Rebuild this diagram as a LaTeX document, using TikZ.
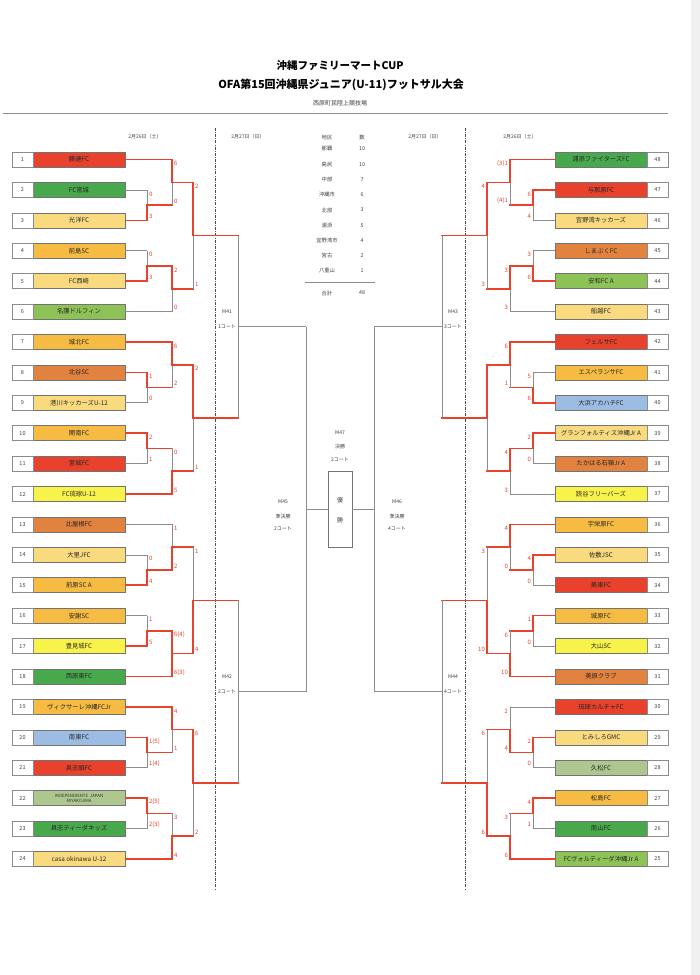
\documentclass[tikz,border=0pt]{standalone}
\usepackage{fontspec}
\setmainfont{Noto Sans CJK JP}
\usetikzlibrary{calc}
\definecolor{cR}{HTML}{E8412C}
\definecolor{cG}{HTML}{48A94C}
\definecolor{cLY}{HTML}{F9DA7E}
\definecolor{cGo}{HTML}{F6BB42}
\definecolor{cOr}{HTML}{E2823F}
\definecolor{cLG}{HTML}{8DC356}
\definecolor{cY}{HTML}{F8F34A}
\definecolor{cLB}{HTML}{9DBCE3}
\definecolor{cSa}{HTML}{ADC78F}
\tikzset{
  team/.style={draw=black!55, line width=0.5pt, minimum width=92pt, minimum height=15pt, inner sep=0pt, text=black!85, font=\fontsize{6.3}{7}\selectfont},
  num/.style={draw=black!45, line width=0.5pt, fill=white, minimum width=21pt, minimum height=15pt, inner sep=0pt, text=black!75, font=\fontsize{5.5}{6}\selectfont},
  rl/.style={draw=cR, line width=1.5pt, line cap=rect},
  gl/.style={draw=black!45, line width=0.6pt},
  scl/.style={text=cR, font=\fontsize{6}{7}\selectfont, inner sep=0.3pt, anchor=west, xshift=1.6pt},
  scr/.style={text=cR, font=\fontsize{6}{7}\selectfont, inner sep=0.3pt, anchor=east, xshift=-1.6pt},
  mlab/.style={fill=white, inner sep=1pt, text=black!75, font=\fontsize{5}{6}\selectfont},
  small/.style={text=black!75, font=\fontsize{5}{6}\selectfont},
  tab/.style={text=black!75, font=\fontsize{5.3}{6}\selectfont},
  dashl/.style={draw=black!70, line width=0.6pt, dash pattern=on 3pt off 1.2pt on 0.8pt off 1.2pt},
}
\newcommand\ent[6]{%
  \draw[#1] (#3) -- (#3 -| #4);
  \draw[#2] (#3 -| #4) -- (#4);
  \node[#6] at ($(#3 -| #4)!4pt!(#4)$) {#5};
}
\begin{document}
\begin{tikzpicture}[x=1pt,y=-1pt]
\useasboundingbox (0,0) rectangle (700,975);
\fill[white] (0,0) rectangle (700,975);
\fill[black!6] (691,0) rectangle (700,975);

% titles
\node[font=\bfseries\fontsize{10.5}{12}\selectfont] (t1) at (340,66) {沖縄ファミリーマートCUP};
\node[font=\bfseries\fontsize{11}{12}\selectfont] (t2) at (341,85) {OFA第15回沖縄県ジュニア(U-11)フットサル大会};
\node[small, font=\fontsize{6}{7}\selectfont] (t3) at (340,103) {西原町民陸上競技場};
\coordinate (hr1) at (3,113); \coordinate (hr2) at (668,113);
\draw[black!45, line width=0.8pt] (hr1) -- (hr2);

% dates
\node[small] (d1) at (145,137) {2月26日（土）};
\node[small] (d2) at (248,137) {2月27日（日）};
\node[small] (d3) at (425,137) {2月27日（日）};
\node[small] (d4) at (520,137) {2月26日（土）};

% dashed day lines
\coordinate (dl1) at (215,128); \coordinate (dl2) at (215,890);
\coordinate (dr1) at (465,128); \coordinate (dr2) at (465,890);
\draw[dashl] (dl1) -- (dl2);
\draw[dashl] (dr1) -- (dr2);

% table
\node[tab] (th1) at (327,137) {地区};
\node[tab] (th2) at (362,137) {数};
\foreach \n/\v [count=\k from 0] in {那覇/10,島尻/10,中部/7,沖縄市/6,北部/3,浦添/5,宜野湾市/4,宮古/2,八重山/1}{
  \node[tab] (ta\k) at (327,149+\k*15.25) {\n};
  \node[tab] (tb\k) at (362,149+\k*15.25) {\v};
}
\coordinate (tl1) at (305,282); \coordinate (tl2) at (375,282);
\draw[black!45, line width=0.6pt] (tl1) -- (tl2);
\node[tab] (tsum1) at (327,293) {合計};
\node[tab] (tsum2) at (362,293) {48};

% left teams
\foreach \i/\nm/\c in {1/勝連FC/cR,2/FC宮城/cG,3/光洋FC/cLY,4/前島SC/cGo,5/FC西崎/cLY,6/名護ドルフィン/cLG,
  7/城北FC/cGo,8/北谷SC/cOr,9/港川キッカーズU-12/cLY,10/開南FC/cGo,11/宮城FC/cR,12/FC琉球U-12/cY,
  13/比屋根FC/cOr,14/大里JFC/cLY,15/前原SC A/cGo,16/安謝SC/cGo,17/豊見城FC/cY,18/西原東FC/cG,
  19/ヴィクサーレ沖縄FCJr/cGo,20/南東FC/cLB,21/具志頭FC/cR,22/{}/cSa,23/具志ティーダキッズ/cG,24/casa okinawa U-12/cLY}{
  \node[team, fill=\c] (L\i) at (79,{159.5+(\i-1)*30.41}) {\nm};
  \node[num] (NL\i) at (22.5,{159.5+(\i-1)*30.41}) {\i};
}
\node[align=center, font=\fontsize{4.3}{4.8}\selectfont, text=black!80] (L22t) at (L22) {INDEPENDIENTE\ \ JAPAN\\MIYAKOJIMA};

% right teams
\foreach \i/\nm/\c [count=\k from 0] in {48/浦添ファイターズFC/cG,47/与那原FC/cR,46/宜野湾キッカーズ/cLY,45/しまぶくFC/cOr,44/安和FC A/cLG,43/船越FC/cLY,
  42/フェルサFC/cR,41/エスペランサFC/cGo,40/大浜アカハチFC/cLB,39/グランフォルティス沖縄Jr A/cLY,38/たかはる石嶺Jr A/cOr,37/読谷フリーバーズ/cY,
  36/宇栄原FC/cGo,35/佐敷JSC/cLY,34/美東FC/cR,33/城原FC/cGo,32/大山SC/cY,31/美原クラブ/cOr,
  30/琉球カルチャFC/cR,29/とみしろGMC/cLY,28/久松FC/cSa,27/松島FC/cGo,26/南山FC/cG,25/FCヴォルティーダ沖縄Jr A/cLG}{
  \node[team, fill=\c] (R\i) at (601,{159.5+\k*30.41}) {\nm};
  \node[num] (NR\i) at (657.5,{159.5+\k*30.41}) {\i};
}

% junctions left
\coordinate (LA1) at (147,205.1); \coordinate (LB1) at (172,182.3); \coordinate (LC1) at (147,265.9); \coordinate (LD1) at (172,288.75); \coordinate (LE1) at (193,235.5);
\coordinate (LA2) at (147,387.6); \coordinate (LB2) at (172,364.8); \coordinate (LC2) at (147,448.4); \coordinate (LD2) at (172,471.2); \coordinate (LE2) at (193,418.0);
\coordinate (LA3) at (147,570.0); \coordinate (LB3) at (172,547.2); \coordinate (LC3) at (147,630.9); \coordinate (LD3) at (172,653.7); \coordinate (LE3) at (193,600.45);
\coordinate (LA4) at (147,752.5); \coordinate (LB4) at (172,729.7); \coordinate (LC4) at (147,813.3); \coordinate (LD4) at (172,836.1); \coordinate (LE4) at (193,782.9);
% junctions right
\coordinate (RA1) at (533,205.1); \coordinate (RB1) at (510,182.3); \coordinate (RC1) at (533,265.9); \coordinate (RD1) at (510,288.75); \coordinate (RE1) at (487,235.5);
\coordinate (RA2) at (533,387.6); \coordinate (RB2) at (510,364.8); \coordinate (RC2) at (533,448.4); \coordinate (RD2) at (510,471.2); \coordinate (RE2) at (487,418.0);
\coordinate (RA3) at (533,570.0); \coordinate (RB3) at (510,547.2); \coordinate (RC3) at (533,630.9); \coordinate (RD3) at (510,653.7); \coordinate (RE3) at (487,600.45);
\coordinate (RA4) at (533,752.5); \coordinate (RB4) at (510,729.7); \coordinate (RC4) at (533,813.3); \coordinate (RD4) at (510,836.1); \coordinate (RE4) at (487,782.9);
% later rounds
\coordinate (M41) at (238,326.75); \coordinate (M42) at (238,691.7); \coordinate (M45) at (306,509.2);
\coordinate (M43) at (442,326.75); \coordinate (M44) at (442,691.7); \coordinate (M46) at (374,509.2);

% M labels (over dashed lines)
\node[mlab] (m41a) at (227,312) {M41}; \node[mlab] (m41b) at (227,327) {1コート};
\node[mlab] (m42a) at (227,677) {M42}; \node[mlab] (m42b) at (227,692) {2コート};
\node[mlab] (m43a) at (453,312) {M43}; \node[mlab] (m43b) at (453,327) {3コート};
\node[mlab] (m44a) at (453,677) {M44}; \node[mlab] (m44b) at (453,692) {4コート};
\node[small] (m47a) at (340,433) {M47}; \node[small] (m47b) at (340,447) {決勝}; \node[small] (m47c) at (340,460) {2コート};
\node[small] (m45a) at (283,502) {M45}; \node[small] (m45b) at (283,517) {準決勝}; \node[small] (m45c) at (283,529) {2コート};
\node[small] (m46a) at (397,502) {M46}; \node[small] (m46b) at (397,517) {準決勝}; \node[small] (m46c) at (397,529) {4コート};

% final box
\node[draw=black!55, line width=0.6pt, minimum width=24pt, minimum height=76pt, inner sep=0pt] (F) at (340,509.2) {};
\node[small, font=\fontsize{6}{7}\selectfont] (F1) at (340,500) {優};
\node[small, font=\fontsize{6}{7}\selectfont] (F2) at (340,520) {勝};

% later-round lines
\ent{gl}{gl}{M41}{M45}{}{scl}
\ent{gl}{gl}{M42}{M45}{}{scl}
\draw[gl] (M45) -- (F.west);
\ent{gl}{gl}{M43}{M46}{}{scr}
\ent{gl}{gl}{M44}{M46}{}{scr}
\draw[gl] (M46) -- (F.east);

% ---------- left group 1
\ent{gl}{gl}{L2.east}{LA1}{0}{scl}
\ent{rl}{rl}{L3.east}{LA1}{3}{scl}
\ent{rl}{rl}{L1.east}{LB1}{6}{scl}
\ent{rl}{gl}{LA1}{LB1}{0}{scl}
\ent{gl}{gl}{L4.east}{LC1}{0}{scl}
\ent{rl}{rl}{L5.east}{LC1}{3}{scl}
\ent{rl}{rl}{LC1}{LD1}{2}{scl}
\ent{gl}{gl}{L6.east}{LD1}{0}{scl}
\ent{rl}{rl}{LB1}{LE1}{2}{scl}
\ent{rl}{gl}{LD1}{LE1}{1}{scl}
% left group 2
\ent{rl}{rl}{L8.east}{LA2}{1}{scl}
\ent{gl}{gl}{L9.east}{LA2}{0}{scl}
\ent{rl}{rl}{L7.east}{LB2}{6}{scl}
\ent{rl}{gl}{LA2}{LB2}{2}{scl}
\ent{rl}{rl}{L10.east}{LC2}{2}{scl}
\ent{gl}{gl}{L11.east}{LC2}{1}{scl}
\ent{rl}{gl}{LC2}{LD2}{0}{scl}
\ent{rl}{rl}{L12.east}{LD2}{5}{scl}
\ent{rl}{rl}{LB2}{LE2}{2}{scl}
\ent{rl}{gl}{LD2}{LE2}{1}{scl}
% left group 3
\ent{gl}{gl}{L14.east}{LA3}{0}{scl}
\ent{rl}{rl}{L15.east}{LA3}{4}{scl}
\ent{gl}{gl}{L13.east}{LB3}{1}{scl}
\ent{rl}{rl}{LA3}{LB3}{2}{scl}
\ent{gl}{gl}{L16.east}{LC3}{1}{scl}
\ent{rl}{rl}{L17.east}{LC3}{5}{scl}
\ent{rl}{rl}{LC3}{LD3}{6(4)}{scl}
\ent{rl}{rl}{L18.east}{LD3}{6(3)}{scl}
\ent{rl}{gl}{LB3}{LE3}{1}{scl}
\ent{rl}{rl}{LD3}{LE3}{4}{scl}
% left group 4
\ent{rl}{rl}{L20.east}{LA4}{1(5)}{scl}
\ent{gl}{gl}{L21.east}{LA4}{1(4)}{scl}
\ent{rl}{rl}{L19.east}{LB4}{4}{scl}
\ent{rl}{gl}{LA4}{LB4}{1}{scl}
\ent{rl}{rl}{L22.east}{LC4}{2(5)}{scl}
\ent{gl}{gl}{L23.east}{LC4}{2(3)}{scl}
\ent{rl}{gl}{LC4}{LD4}{3}{scl}
\ent{rl}{rl}{L24.east}{LD4}{4}{scl}
\ent{rl}{rl}{LB4}{LE4}{6}{scl}
\ent{rl}{gl}{LD4}{LE4}{2}{scl}
% left to M41 / M42
\ent{rl}{gl}{LE1}{M41}{}{scl}
\ent{rl}{gl}{LE2}{M41}{}{scl}
\ent{rl}{gl}{LE3}{M42}{}{scl}
\ent{rl}{gl}{LE4}{M42}{}{scl}

% ---------- right group 1
\ent{rl}{rl}{R47.west}{RA1}{6}{scr}
\ent{gl}{gl}{R46.west}{RA1}{4}{scr}
\ent{rl}{rl}{R48.west}{RB1}{(3)1}{scr}
\ent{rl}{gl}{RA1}{RB1}{(4)1}{scr}
\ent{gl}{gl}{R45.west}{RC1}{3}{scr}
\ent{rl}{rl}{R44.west}{RC1}{6}{scr}
\ent{rl}{rl}{RC1}{RD1}{3}{scr}
\ent{gl}{gl}{R43.west}{RD1}{3}{scr}
\ent{rl}{rl}{RB1}{RE1}{4}{scr}
\ent{rl}{gl}{RD1}{RE1}{3}{scr}
% right group 2
\ent{gl}{gl}{R41.west}{RA2}{5}{scr}
\ent{rl}{rl}{R40.west}{RA2}{6}{scr}
\ent{rl}{rl}{R42.west}{RB2}{6}{scr}
\ent{rl}{gl}{RA2}{RB2}{1}{scr}
\ent{rl}{rl}{R39.west}{RC2}{2}{scr}
\ent{gl}{gl}{R38.west}{RC2}{0}{scr}
\ent{rl}{rl}{RC2}{RD2}{4}{scr}
\ent{gl}{gl}{R37.west}{RD2}{3}{scr}
\ent{rl}{rl}{RB2}{RE2}{}{scr}
\ent{rl}{gl}{RD2}{RE2}{}{scr}
% right group 3
\ent{rl}{rl}{R35.west}{RA3}{4}{scr}
\ent{gl}{gl}{R34.west}{RA3}{0}{scr}
\ent{rl}{rl}{R36.west}{RB3}{4}{scr}
\ent{rl}{gl}{RA3}{RB3}{0}{scr}
\ent{rl}{rl}{R33.west}{RC3}{1}{scr}
\ent{gl}{gl}{R32.west}{RC3}{0}{scr}
\ent{rl}{gl}{RC3}{RD3}{6}{scr}
\ent{rl}{rl}{R31.west}{RD3}{10}{scr}
\ent{rl}{gl}{RB3}{RE3}{3}{scr}
\ent{rl}{rl}{RD3}{RE3}{10}{scr}
% right group 4
\ent{rl}{rl}{R29.west}{RA4}{2}{scr}
\ent{gl}{gl}{R28.west}{RA4}{0}{scr}
\ent{gl}{gl}{R30.west}{RB4}{2}{scr}
\ent{rl}{rl}{RA4}{RB4}{4}{scr}
\ent{rl}{rl}{R27.west}{RC4}{4}{scr}
\ent{gl}{gl}{R26.west}{RC4}{1}{scr}
\ent{rl}{gl}{RC4}{RD4}{3}{scr}
\ent{rl}{rl}{R25.west}{RD4}{6}{scr}
\ent{rl}{gl}{RB4}{RE4}{6}{scr}
\ent{rl}{rl}{RD4}{RE4}{6}{scr}
% right to M43 / M44
\ent{rl}{gl}{RE1}{M43}{}{scr}
\ent{rl}{gl}{RE2}{M43}{}{scr}
\ent{rl}{gl}{RE3}{M44}{}{scr}
\ent{rl}{gl}{RE4}{M44}{}{scr}
\end{tikzpicture}
\end{document}
